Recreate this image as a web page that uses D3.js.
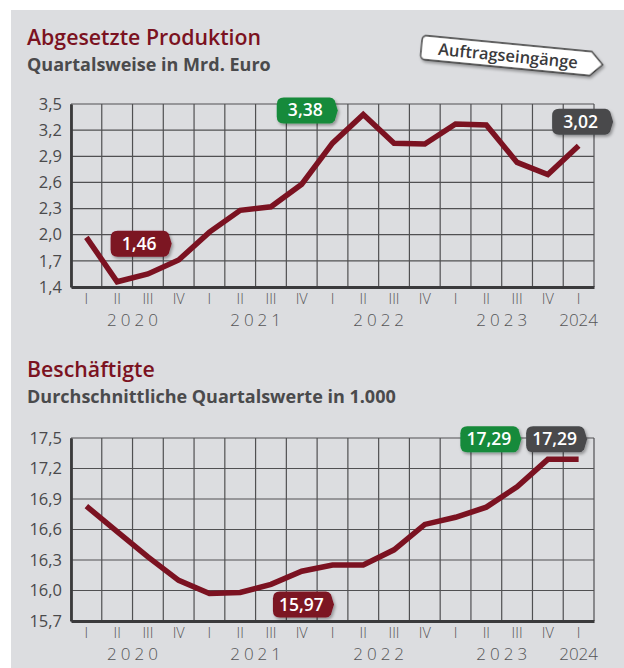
<!DOCTYPE html>
<html>
<head>
<meta charset="utf-8">
<script src="https://d3js.org/d3.v7.min.js"></script>
<style>
  html, body { margin: 0; padding: 0; background: #fff; }
  svg { display: block; }
</style>
</head>
<body>
<div id="chart"></div>
<script>
// Quarters on the x axis
const quarterKeys = [
  "2020-I", "2020-II", "2020-III", "2020-IV",
  "2021-I", "2021-II", "2021-III", "2021-IV",
  "2022-I", "2022-II", "2022-III", "2022-IV",
  "2023-I", "2023-II", "2023-III", "2023-IV",
  "2024-I"
];
const yearLabels = ["2020", "2021", "2022", "2023", "2024"];

// Abgesetzte Produktion, Mrd. Euro
const production = [1.97, 1.46, 1.55, 1.71, 2.03, 2.28, 2.32, 2.58, 3.05, 3.38, 3.05, 3.04, 3.27, 3.26, 2.83, 2.69, 3.02];
const productionTicks = [1.4, 1.7, 2.0, 2.3, 2.6, 2.9, 3.2, 3.5];

// Beschäftigte, in 1.000
const employees = [16.83, 16.58, 16.33, 16.10, 15.97, 15.98, 16.06, 16.19, 16.25, 16.25, 16.40, 16.65, 16.72, 16.82, 17.02, 17.29, 17.29];
const employeeTicks = [15.7, 16.0, 16.3, 16.6, 16.9, 17.2, 17.5];

const W = 624, H = 668;
const colors = { red: "#7b1221", green: "#178a3a", grey: "#48494c", bg: "#dcdde0" };

const de = d3.formatLocale({ decimal: ",", thousands: ".", grouping: [3], currency: ["", " €"] });
const fmt1 = de.format(".1f");
const fmt2 = de.format(".2f");

const svg = d3.select("#chart").append("svg")
  .attr("width", W)
  .attr("height", H)
  .style("font-family", "'Open Sans', sans-serif");

// Drop shadow for the badges
const defs = svg.append("defs");
defs.append("filter").attr("id", "shadow")
  .attr("x", "-20%").attr("y", "-30%").attr("width", "150%").attr("height", "180%")
  .append("feDropShadow")
  .attr("dx", 1.5).attr("dy", 2).attr("stdDeviation", 1.5)
  .attr("flood-color", "#000").attr("flood-opacity", 0.35);

svg.append("rect")
  .attr("x", 11).attr("y", 10)
  .attr("width", W - 11).attr("height", H - 10)
  .attr("fill", colors.bg);

// Badge with rounded left side and a blunt point on the right
function badgePath(w, h) {
  const r = 7, t = 5;
  return `M${r},0 H${w - t - 3} Q${w - t},0 ${w - t + 2},3 L${w},${h / 2} L${w - t + 2},${h - 3} Q${w - t},${h} ${w - t - 3},${h} H${r} Q0,${h} 0,${h - r} V${r} Q0,0 ${r},0 Z`;
}

function drawPanel(opts) {
  const g = svg.append("g");

  g.append("text")
    .attr("x", 27).attr("y", opts.titleY)
    .attr("fill", colors.red)
    .attr("font-size", 21.3).attr("font-weight", 600)
    .text(opts.title);

  g.append("text")
    .attr("x", 27).attr("y", opts.titleY + 26)
    .attr("fill", "#4a4a4c")
    .attr("font-size", 18).attr("font-weight", 700)
    .text(opts.subtitle);

  const x = d3.scaleBand().domain(quarterKeys).range([71, 594]);
  const y = d3.scaleLinear().domain(d3.extent(opts.ticks)).range([opts.bottom, opts.top]);
  const cx = k => x(k) + x.bandwidth() / 2;

  // Grid
  const edges = quarterKeys.map(k => x(k)).concat([x.range()[1]]);
  g.append("g").selectAll("line")
    .data(edges)
    .join("line")
    .attr("x1", d => d).attr("x2", d => d)
    .attr("y1", opts.top).attr("y2", opts.bottom)
    .attr("stroke", "#505052").attr("stroke-width", 1.2);

  g.append("g").selectAll("line")
    .data(opts.ticks)
    .join("line")
    .attr("x1", 71).attr("x2", 594)
    .attr("y1", d => y(d)).attr("y2", d => y(d))
    .attr("stroke", "#505052").attr("stroke-width", 1.2);

  // Axes (left and bottom drawn heavier)
  const yAxis = g.append("g")
    .attr("transform", "translate(71,0)")
    .call(d3.axisLeft(y).tickValues(opts.ticks).tickFormat(fmt1).tickSize(0).tickPadding(9));
  yAxis.select(".domain").attr("stroke", "#3a3a3c").attr("stroke-width", 2.8);
  yAxis.selectAll("text")
    .attr("fill", "#4a4a4c").attr("font-size", 16.5)
    .attr("font-family", "'Open Sans', sans-serif");

  const xAxis = g.append("g")
    .attr("transform", `translate(0,${opts.bottom})`)
    .call(d3.axisBottom(x).tickFormat(k => k.split("-")[1]).tickSize(0).tickPadding(7));
  xAxis.select(".domain").attr("stroke", "#3a3a3c").attr("stroke-width", 2.8);
  xAxis.selectAll("text")
    .attr("fill", "#555557").attr("font-size", 14.5).attr("font-weight", 300)
    .attr("font-family", "'Open Sans', sans-serif");

  // Year labels, centred between the II and III quarter (2024 under its only quarter)
  g.append("g").selectAll("text")
    .data(yearLabels)
    .join("text")
    .attr("x", d => d === "2024" ? cx(d + "-I") : (cx(d + "-II") + cx(d + "-III")) / 2 + 2)
    .attr("y", opts.bottom + 39)
    .attr("text-anchor", "middle")
    .attr("fill", "#555557")
    .attr("font-size", 17).attr("font-weight", 300)
    .attr("letter-spacing", d => d === "2024" ? 0 : 4)
    .text(d => d);

  // Series line
  const line = d3.line()
    .x((d, i) => cx(quarterKeys[i]))
    .y(d => y(d));

  g.append("path")
    .datum(opts.values)
    .attr("d", line)
    .attr("fill", "none")
    .attr("stroke", colors.red)
    .attr("stroke-width", 5.5)
    .attr("stroke-linejoin", "miter");

  // Value badges
  const bw = 61, bh = 26;
  const badges = g.append("g").selectAll("g")
    .data(opts.badges)
    .join("g")
    .attr("transform", b => `translate(${cx(quarterKeys[b.index]) + b.dx - bw / 2},${y(opts.values[b.index]) + b.dy - bh / 2})`);

  badges.append("path")
    .attr("d", badgePath(bw, bh))
    .attr("fill", b => colors[b.color])
    .attr("filter", "url(#shadow)");

  badges.append("text")
    .attr("x", bw / 2 - 2).attr("y", bh / 2 + 6)
    .attr("text-anchor", "middle")
    .attr("fill", "#fff")
    .attr("font-size", 17.5).attr("font-weight", 600)
    .text(b => fmt2(opts.values[b.index]));
}

drawPanel({
  title: "Abgesetzte Produktion",
  subtitle: "Quartalsweise in Mrd. Euro",
  titleY: 45,
  top: 104, bottom: 287,
  ticks: productionTicks,
  values: production,
  badges: [
    { index: 1, color: "red", dx: 24, dy: -38 },
    { index: 9, color: "green", dx: -56, dy: -4 },
    { index: 16, color: "grey", dx: 4, dy: -24 }
  ]
});

drawPanel({
  title: "Beschäftigte",
  subtitle: "Durchschnittliche Quartalswerte in 1.000",
  titleY: 377,
  top: 438, bottom: 621,
  ticks: employeeTicks,
  values: employees,
  badges: [
    { index: 4, color: "red", dx: 94, dy: 11 },
    { index: 15, color: "green", dx: -57, dy: -20 },
    { index: 16, color: "grey", dx: -22, dy: -20 }
  ]
});

// "Auftragseingänge" tab in the top right corner
const tab = svg.append("g").attr("transform", "translate(512,56) rotate(5.5)");
const tw = 182, th = 24;
tab.append("path")
  .attr("d", `M${-tw / 2 + 5},${-th / 2} H${tw / 2 - 12} L${tw / 2},0 L${tw / 2 - 12},${th / 2} H${-tw / 2 + 5} Q${-tw / 2},${th / 2} ${-tw / 2},${th / 2 - 5} V${-th / 2 + 5} Q${-tw / 2},${-th / 2} ${-tw / 2 + 5},${-th / 2} Z`)
  .attr("fill", "#fff")
  .attr("stroke", "#333")
  .attr("stroke-width", 1.3)
  .attr("filter", "url(#shadow)");
tab.append("text")
  .attr("x", -4).attr("y", 6)
  .attr("text-anchor", "middle")
  .attr("fill", "#3a3a3c")
  .attr("font-size", 16.5).attr("font-weight", 600)
  .text("Auftragseingänge");
</script>
</body>
</html>
